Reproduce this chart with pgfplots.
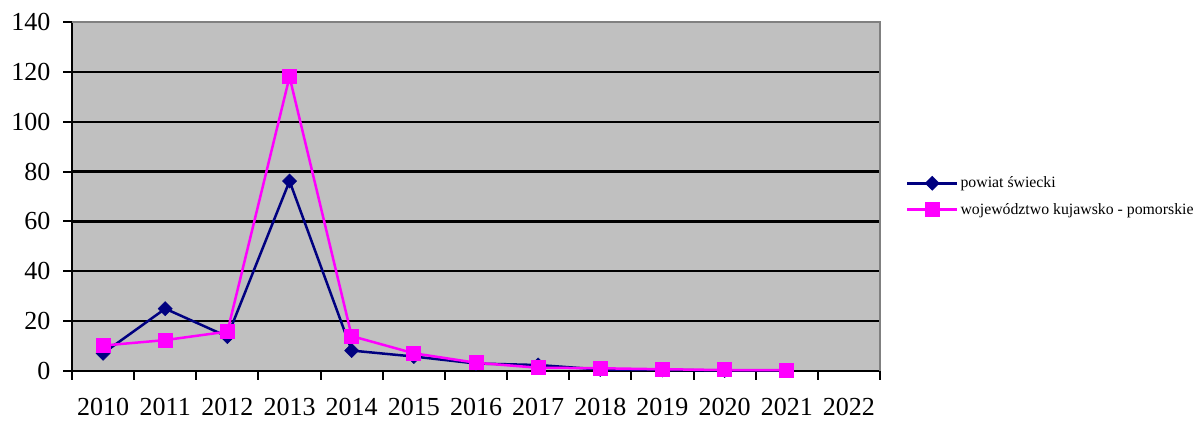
\documentclass[border=0pt]{standalone}
\usepackage{fontspec}
\setmainfont{Liberation Serif}
\usepackage{pgfplots}
\pgfplotsset{compat=1.18}
\definecolor{navyc}{HTML}{000080}
\definecolor{pinkc}{HTML}{FF00FF}
\definecolor{plotbg}{HTML}{C0C0C0}
\definecolor{frameg}{HTML}{808080}
\begin{document}
\begin{tikzpicture}[x=1pt,y=1pt]
\path[use as bounding box] (0,0) rectangle (1200,422);
\begin{axis}[
  at={(72pt,51pt)}, anchor=south west,
  scale only axis, width=808pt, height=349pt,
  xmin=-0.5, xmax=12.5, ymin=0, ymax=140,
  axis background/.style={fill=plotbg},
  axis x line*=bottom, axis y line*=left,
  axis line style={-, black, line width=2pt},
  xtick={0,...,12},
  xticklabels={2010,2011,2012,2013,2014,2015,2016,2017,2018,2019,2020,2021,2022},
  major x tick style={draw=none},
  minor xtick={-0.5,0.5,...,12.5},
  minor x tick style={black, line width=2pt},
  minor tick length=9pt,
  xtick align=outside,
  ytick={0,20,...,140},
  ytick align=outside,
  major y tick style={black, line width=2pt},
  major tick length=9pt,
  ymajorgrids,
  major grid style={black, line width=2.2pt},
  /pgf/number format/assume math mode=true,
  ticklabel style={font=\fontsize{26}{30}\selectfont},
  yticklabel style={xshift=-9pt},
  xticklabel style={yshift=-16pt, inner sep=2pt},
  clip=false,
  legend style={at={(1.032,0.5)}, anchor=west, draw=none, fill=none,
    font=\fontsize{15.8}{18}\selectfont, inner sep=0pt, row sep=10pt,
    /tikz/every even column/.append style={column sep=2pt}},
  legend cell align=left,
  legend image code/.code={\draw[#1,mark repeat=2,mark phase=2] plot coordinates {(0pt,0pt) (25pt,0pt) (50pt,0pt)};},
]
\addplot[navyc, line width=2.5pt, mark=square*, mark size=5pt, mark options={solid, rotate=45, line width=0.5pt}]
  coordinates {(0,7.1) (1,25) (2,13.8) (3,76.2) (4,8.2) (5,5.8) (6,3) (7,2.4) (8,0.6) (9,0.4) (10,0.2) (11,0.2)};
\addlegendentry{powiat świecki}
\addplot[pinkc, line width=2.5pt, mark=square*, mark size=7pt, mark options={solid, line width=1pt}]
  coordinates {(0,10.2) (1,12.4) (2,15.8) (3,118) (4,14) (5,7.1) (6,3.3) (7,1.3) (8,1.1) (9,0.7) (10,0.4) (11,0.3)};
\addlegendentry{województwo kujawsko - pomorskie}
\draw[frameg, line width=2pt] (rel axis cs:0,1) -- (rel axis cs:1,1) -- (rel axis cs:1,0);
\end{axis}
\end{tikzpicture}
\end{document}
